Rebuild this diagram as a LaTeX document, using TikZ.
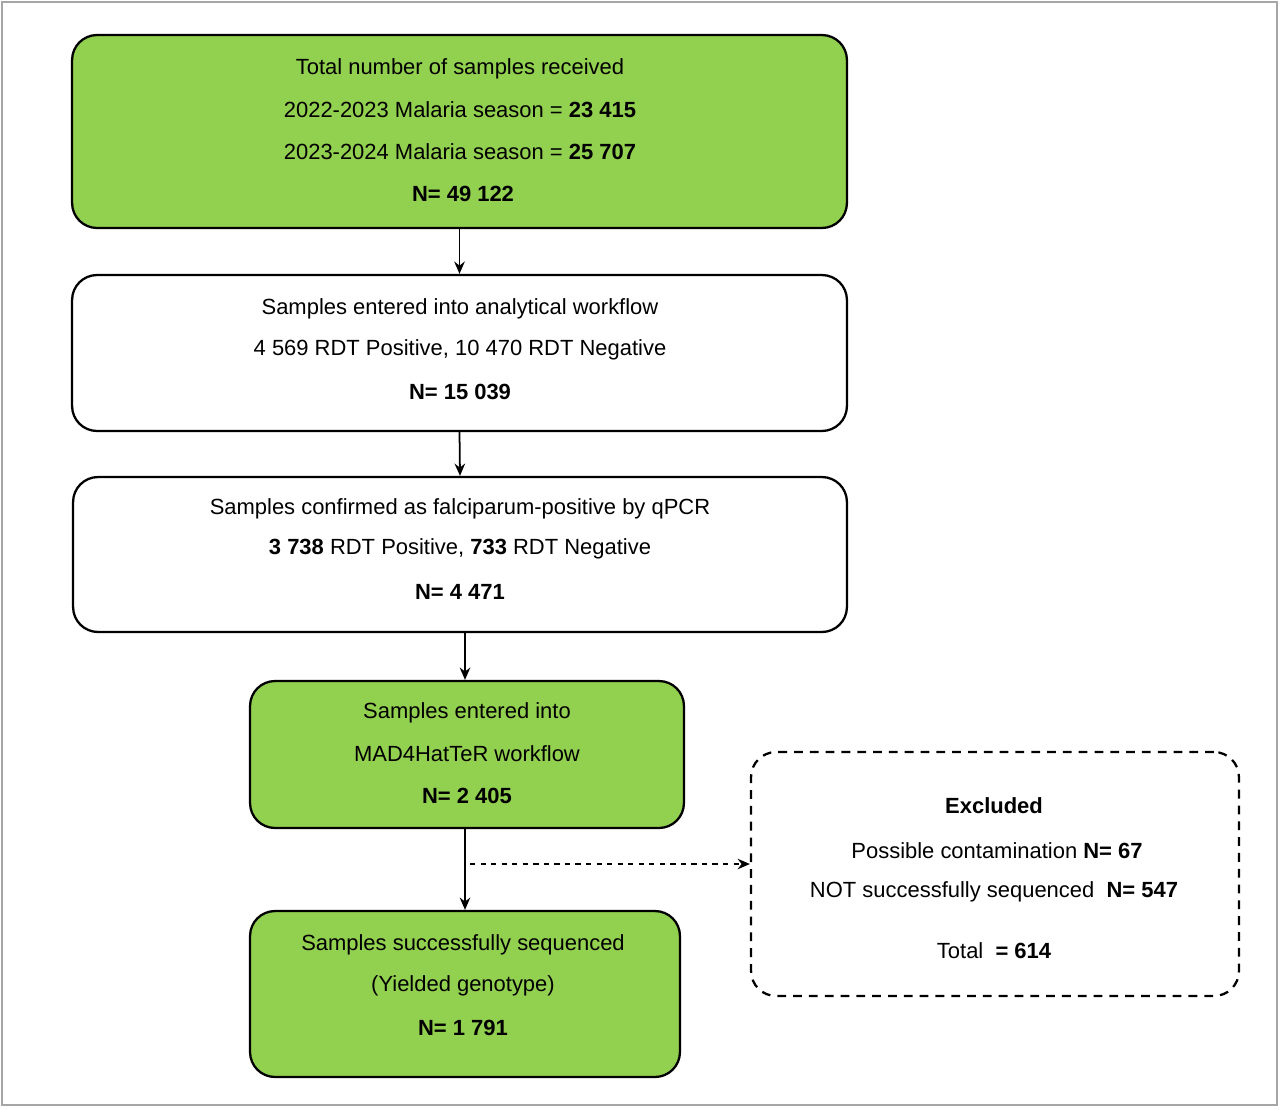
\documentclass[tikz,border=0pt]{standalone}
\usepackage{fontspec}
\setmainfont{Liberation Sans}
\usetikzlibrary{arrows.meta}
\definecolor{grn}{HTML}{92D050}
\begin{document}
\begin{tikzpicture}[x=0.02cm,y=-0.02cm,
  box/.style={draw=black,line width=1.3pt,rounded corners=0.5cm,inner sep=0pt},
  txt/.style={font=\fontsize{12.5pt}{14pt}\selectfont,inner sep=0pt,anchor=center},
  arr/.style={-{Stealth[length=7pt,width=6pt]},line width=1pt}]
\useasboundingbox (0,0) rectangle (1280,1109);
\draw[gray!70,line width=1pt] (2,2) rectangle (1277,1105);
\node[box,fill=grn,minimum width=15.5cm,minimum height=3.86cm] (b1) at (459.5,131.5) {};
\node[box,fill=white,minimum width=15.5cm,minimum height=3.12cm] (b2) at (459.5,353) {};
\node[box,fill=white,minimum width=15.48cm,minimum height=3.1cm] (b3) at (460,554.5) {};
\node[box,fill=grn,minimum width=8.68cm,minimum height=2.94cm] (b4) at (467,754.5) {};
\node[box,fill=grn,minimum width=8.6cm,minimum height=3.32cm] (b5) at (465,994) {};
\node[box,dashed,dash pattern=on 5pt off 4pt,minimum width=9.76cm,minimum height=4.88cm] (ex) at (995,874) {};
\node[txt] at (460,69) {Total number of samples received};
\node[txt] at (460,110) {2022-2023 Malaria season = \textbf{23 415}};
\node[txt] at (460,152) {2023-2024 Malaria season = \textbf{25 707}};
\node[txt] at (463,194) {\textbf{N= 49 122}};
\node[txt] at (460,309) {Samples entered into analytical workflow};
\node[txt] at (460,350) {4 569 RDT Positive, 10 470 RDT Negative};
\node[txt] at (460,392) {\textbf{N= 15 039}};
\node[txt] at (460,509) {Samples confirmed as falciparum-positive by qPCR};
\node[txt] at (460,549) {\textbf{3 738} RDT Positive, \textbf{733} RDT Negative};
\node[txt] at (460,592) {\textbf{N= 4 471}};
\node[txt] at (467,713) {Samples entered into};
\node[txt] at (467,754) {MAD4HatTeR workflow};
\node[txt] at (467,796) {\textbf{N= 2 405}};
\node[txt] at (463,945) {Samples successfully sequenced};
\node[txt] at (463,986) {(Yielded genotype)};
\node[txt] at (463,1028) {\textbf{N= 1 791}};
\node[txt] at (994,806) {\textbf{Excluded}};
\node[txt] at (997,851) {Possible contamination \textbf{N= 67}};
\node[txt] at (994,892) {NOT successfully sequenced \ \textbf{N= 547}};
\node[txt] at (994,951) {Total \ \textbf{= 614}};
\draw[arr] (b1.south) -- (b2.north);
\draw[arr] (b2.south) -- (b3.north);
\draw[arr] (465,632) -- (b4.north -| 465,0);
\draw[arr] (b4.south -| 465,0) -- (b5.north -| 465,0);
\coordinate (d0) at (470,864);
\draw[arr,dashed] (d0) -- (d0 -| ex.west);
\end{tikzpicture}
\end{document}
